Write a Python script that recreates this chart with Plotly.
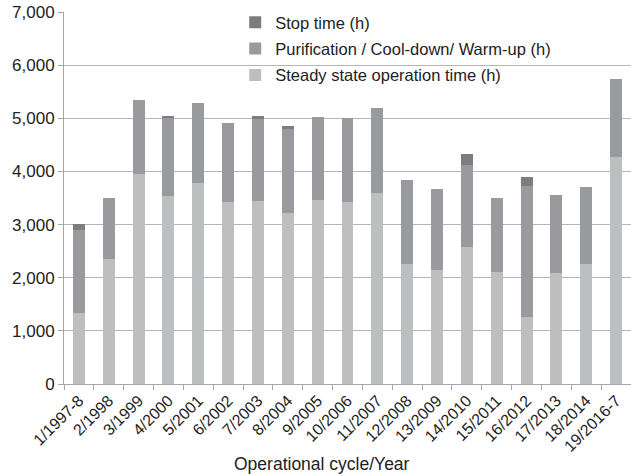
import plotly.graph_objects as go

categories = ["1/1997-8", "2/1998", "3/1999", "4/2000", "5/2001", "6/2002", "7/2003",
              "8/2004", "9/2005", "10/2006", "11/2007", "12/2008", "13/2009", "14/2010",
              "15/2011", "16/2012", "17/2013", "18/2014", "19/2016-7"]
steady = [1345, 2350, 3960, 3533, 3790, 3420, 3440, 3215, 3458, 3420, 3602,
          2264, 2145, 2577, 2101, 1270, 2083, 2251, 4278]
purification = [1545, 1155, 1390, 1490, 1495, 1490, 1546, 1590, 1564, 1589, 1589,
                1576, 1526, 1538, 1407, 2460, 1478, 1451, 1469]
stop = [130, 0, 0, 20, 0, 0, 60, 45, 0, 0, 0, 0, 0, 219, 0, 166, 0, 0, 0]
y_ticks = [0, 1000, 2000, 3000, 4000, 5000, 6000, 7000]

font_family = "Liberation Sans, Arial, sans-serif"

fig = go.Figure()
fig.add_trace(go.Bar(x=categories, y=steady, name="Steady state operation time (h)",
                     legendgroup="a", legendrank=3,
                     marker=dict(color="#bdbec0", line=dict(width=0))))
fig.add_trace(go.Bar(x=categories, y=purification, name="Purification / Cool-down/ Warm-up (h)",
                     legendgroup="b", legendrank=2,
                     marker=dict(color="#989a9d", line=dict(width=0))))
fig.add_trace(go.Bar(x=categories, y=stop, name="Stop time (h)",
                     legendgroup="c", legendrank=1,
                     marker=dict(color="#7c7d80", line=dict(width=0))))

fig.update_layout(
    width=631, height=474,
    barmode="stack", bargap=0.6,
    plot_bgcolor="white", paper_bgcolor="white",
    margin=dict(l=64, r=0, t=12, b=90),
    font=dict(family=font_family, color="#222222"),
    showlegend=True,
    legend=dict(traceorder="grouped", x=0.302, y=1.019, xanchor="left", yanchor="top",
                bgcolor="rgba(0,0,0,0)", font=dict(size=16.5, color="#222222"),
                itemwidth=30, tracegroupgap=2),
    xaxis=dict(
        automargin=False,
        tickangle=-45, tickfont=dict(size=16), showgrid=False,
        showline=True, linecolor="#a6a6a6", linewidth=1,
        ticks="outside", tickson="boundaries", ticklen=5, tickcolor="#a6a6a6",
    ),
    yaxis=dict(
        automargin=False, ticklabeloverflow="allow",
        range=[0, 7001], tickvals=y_ticks, tickformat=",d", tickfont=dict(size=17),
        showgrid=True, gridcolor="#b5b5b5", gridwidth=1,
        showline=True, linecolor="#a6a6a6", linewidth=1,
        ticks="outside", ticklen=5, tickcolor="#a6a6a6", zeroline=False,
    ),
    annotations=[dict(text="Operational cycle/Year", xref="paper", yref="paper",
                      x=0.455, y=-0.215, xanchor="center", yanchor="middle",
                      showarrow=False, font=dict(size=17.5, color="#222222"))],
)

fig.write_html("out.html", config={"displayModeBar": False},
               post_script="document.body.style.margin='0';document.body.style.padding='0';")
